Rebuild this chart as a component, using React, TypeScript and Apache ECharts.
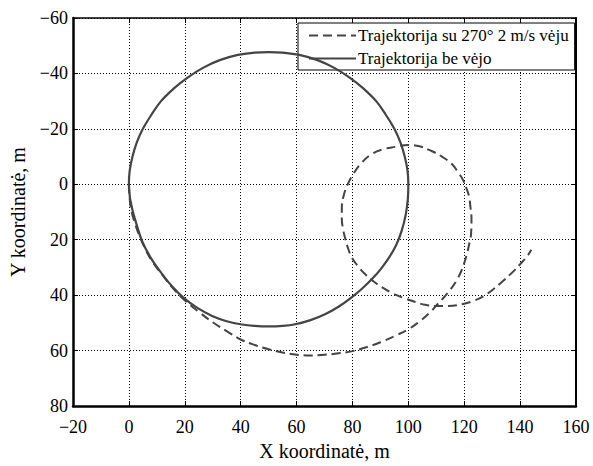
import React, { useEffect, useRef } from "react";
import * as echarts from "echarts";

const noWindX = [0, 0.4, 1.2, 2.6, 4.8, 8, 11.9, 15.6, 19.6, 24.5, 29.8, 35, 40.5, 45, 50, 55, 59.5, 65, 70, 75, 79.7, 83.5, 86.9, 90.2, 93.2, 95.7, 97.6, 99, 99.8, 100, 99.7, 98.7, 97.2, 95, 92, 88.5, 84, 79, 73.5, 67.5, 61, 55, 50, 45, 39, 32.5, 26.5, 21, 16, 11.5, 8, 5, 2.8, 1.3, 0.3, 0, 0.4, 1.2];
const noWindY = [0, 5, 9, 14, 20.7, 26.8, 32.4, 37, 41, 44.6, 47.5, 49.4, 50.6, 51.1, 51.3, 51.1, 50.5, 49, 47, 44.2, 40.8, 37.6, 34.3, 30.5, 26.3, 21.8, 16.8, 11.3, 5.5, 0, -5, -10, -15, -20, -25, -30, -34.5, -38.5, -42, -44.8, -46.7, -47.5, -47.7, -47.5, -46.7, -44.8, -42, -38.5, -34.5, -30, -25, -20, -15, -10, -5, 0, 5, 9];

const windX = [0, 0.6, 2.3, 4.8, 8, 11.9, 15.5, 19.6, 25, 30, 35, 40, 45, 50, 55, 60, 65, 70, 75, 80, 85, 90, 95, 100, 104, 107.5, 110.7, 113, 114.9, 117.2, 119, 120.3, 121.2, 122, 122.4, 122.6, 122.2, 121.7, 120.8, 119.6, 117.7, 115.5, 112, 108.3, 104, 100, 95.2, 90.5, 86.9, 83.3, 80.4, 78.3, 76.8, 76.2, 76.2, 76.6, 77.4, 78.4, 79.8, 82, 84.5, 87.5, 90.5, 94.5, 98.8, 102.5, 106, 110, 114.3, 119.6, 123.5, 127, 130.5, 134, 137.5, 140.5, 142.5, 144];
const windY = [0, 8, 14.5, 21, 27.3, 32.6, 37.2, 41.5, 46, 49.8, 53, 56, 58, 59.5, 60.7, 61.5, 61.8, 61.5, 61, 60.2, 58.8, 57, 54.8, 52.3, 49.5, 46.5, 43, 40.5, 38.2, 34.8, 31.2, 27.5, 24.2, 20.5, 18.4, 12.5, 8, 4.3, 1.5, -1.5, -4.5, -7.4, -10, -12, -13.7, -14.2, -13.5, -12.5, -10.9, -7.8, -3.9, 0, 4.3, 8.5, 12.5, 16, 19.5, 23, 26.5, 29.6, 32.4, 35, 37.1, 39.4, 41.2, 42.5, 43.5, 43.9, 43.9, 43.2, 42, 40.3, 37.8, 34.8, 31.5, 28.3, 26, 23.6];

const seriesNames = ["Trajektorija su 270° 2 m/s vėju", "Trajektorija be vėjo"];
const xTitle = "X koordinatė, m";
const yTitle = "Y koordinatė, m";

const FONT = "Liberation Serif";
const fmt = (v: number) => String(v).replace("-", "\u2212");

export default function App() {
  const ref = useRef<HTMLDivElement>(null);
  useEffect(() => {
    const chart = echarts.init(ref.current!, null, { renderer: "svg" });
    const grid = { type: [1, 2] as any, color: "#000", width: 1 };
    chart.setOption({
      animation: false,
      backgroundColor: "#fff",
      textStyle: { fontFamily: FONT },
      grid: { left: 72, right: 17, top: 18, bottom: 52, containLabel: false },
      legend: {
        left: 298,
        top: 23,
        width: 274,
        orient: "vertical",
        itemWidth: 47,
        itemHeight: 12,
        itemGap: 6,
        padding: [4, 6, 3, 10],
        backgroundColor: "#fff",
        borderColor: "#000",
        borderWidth: 1,
        borderRadius: 0,
        itemStyle: { color: "transparent", borderColor: "transparent", borderWidth: 0, opacity: 0 },
        textStyle: { fontFamily: FONT, fontSize: 17, color: "#000", padding: [0, 0, 0, -3] },
        data: seriesNames,
      },
      xAxis: [
        {
          type: "value",
          min: -20,
          max: 160,
          interval: 20,
          position: "bottom",
          name: xTitle,
          nameLocation: "middle",
          nameGap: 35,
          nameTextStyle: { fontFamily: FONT, fontSize: 20, color: "#000" },
          axisLine: { onZero: false, lineStyle: { color: "#000", width: 2.5 } },
          axisTick: { inside: true, length: 5, lineStyle: { color: "#000" } },
          axisLabel: { formatter: fmt, fontFamily: FONT, fontSize: 18, color: "#000", margin: 12 },
          splitLine: { show: true, lineStyle: grid },
        },
        {
          type: "value",
          min: -20,
          max: 160,
          interval: 20,
          position: "top",
          axisLine: { onZero: false, lineStyle: { color: "#000", width: 1.5 } },
          axisTick: { inside: true, length: 5, lineStyle: { color: "#000" } },
          axisLabel: { show: false },
          splitLine: { show: false },
        },
      ],
      yAxis: [
        {
          type: "value",
          min: -60,
          max: 80,
          interval: 20,
          inverse: true,
          position: "left",
          name: yTitle,
          nameLocation: "middle",
          nameGap: 45,
          nameTextStyle: { fontFamily: FONT, fontSize: 20, color: "#000" },
          axisLine: { onZero: false, lineStyle: { color: "#000", width: 2.5 } },
          axisTick: { inside: true, length: 5, lineStyle: { color: "#000" } },
          axisLabel: { formatter: fmt, fontFamily: FONT, fontSize: 18, color: "#000", margin: 5 },
          splitLine: { show: true, lineStyle: grid },
        },
        {
          type: "value",
          min: -60,
          max: 80,
          interval: 20,
          inverse: true,
          position: "right",
          axisLine: { onZero: false, lineStyle: { color: "#000", width: 2 } },
          axisTick: { inside: true, length: 5, lineStyle: { color: "#000" } },
          axisLabel: { show: false },
          splitLine: { show: false },
        },
      ],
      series: [
        {
          name: seriesNames[0],
          type: "line",
          smooth: 0.4,
          symbol: "none",
          data: windX.map((x, i) => [x, windY[i]]),
          lineStyle: { color: "#444", width: 2, type: [9, 5] },
          itemStyle: { color: "#444" },
          z: 3,
        },
        {
          name: seriesNames[1],
          type: "line",
          smooth: 0.4,
          symbol: "none",
          data: noWindX.map((x, i) => [x, noWindY[i]]),
          lineStyle: { color: "#444", width: 2.2 },
          itemStyle: { color: "#444" },
          z: 4,
        },
      ],
    });
    return () => chart.dispose();
  }, []);
  return <div ref={ref} style={{ width: 593, height: 466, position: "absolute", left: 0, top: 0 }} />;
}
